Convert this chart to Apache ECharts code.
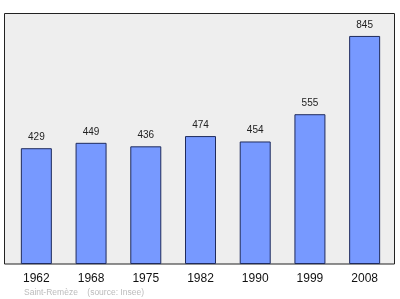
<!DOCTYPE html>
<html><head><meta charset="utf-8">
<script src="https://cdn.jsdelivr.net/npm/echarts@6/dist/echarts.min.js"></script>
<style>html,body{margin:0;padding:0;background:#fff}#c{width:400px;height:299px}</style>
</head><body><div id="c"></div>
<script>
const years = ['1962','1968','1975','1982','1990','1999','2008'];
const population = [429, 449, 436, 474, 454, 555, 845];
const caption = 'Saint-Remèze    (source: Insee)';

const chart = echarts.init(document.getElementById('c'), null, {renderer:'canvas'});
chart.setOption({
  animation: false,
  backgroundColor: '#ffffff',
  graphic: [
    {type:'rect', shape:{x:4.5, y:13.5, width:390, height:250.5}, style:{fill:'#eeeeee', stroke:'#222222', lineWidth:1}, z:-10},
    {type:'text', left:24, top:288, style:{text:caption, fill:'#bbbbbb', font:'8.5px "Liberation Sans", Arial, sans-serif'}}
  ],
  grid: {left:9, right:8, top:13, bottom:35, containLabel:false},
  xAxis: {
    type:'category', data: years,
    axisLine:{show:false}, axisTick:{show:false},
    axisLabel:{color:'#111', fontSize:12, fontFamily:'"Liberation Sans", Arial, sans-serif', margin:9}
  },
  yAxis: {type:'value', min:0, max:930, show:false, splitLine:{show:false}},
  series: [{
    type:'bar', data: population, barWidth:31,
    itemStyle:{color:'#7799ff', borderColor:'#1f2b5c', borderWidth:1},
    label:{show:true, position:'top', distance:6, color:'#222', fontSize:10, fontFamily:'"Liberation Sans", Arial, sans-serif'}
  }]
});
</script></body></html>
